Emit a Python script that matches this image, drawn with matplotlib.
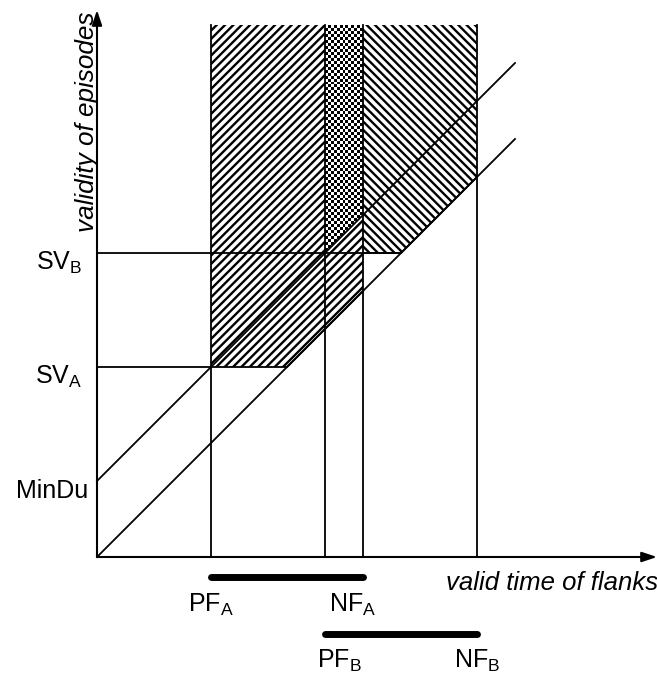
import numpy as np
import matplotlib
matplotlib.use("Agg")
import matplotlib.pyplot as plt
from matplotlib.patches import Polygon

# ---- data (abstract time units) ----
flank_names = ["PF$_\\mathrm{A}$", "NF$_\\mathrm{A}$", "PF$_\\mathrm{B}$", "NF$_\\mathrm{B}$"]
flank_pos = [3, 7, 6, 10]          # PF_A, NF_A, PF_B, NF_B
label_x = [3, 6.73, 6.37, 10]      # centre of each flank label
episode_A = (3, 7)                 # (PF_A, NF_A)
episode_B = (6, 10)                # (PF_B, NF_B)
sv_names = ["SV$_\\mathrm{A}$", "SV$_\\mathrm{B}$", "MinDu"]
sv_values = [5, 8, 2]
min_du = 2
top_value = 14
diag_end = 11

plt.rcParams['font.family'] = ['Liberation Sans', 'DejaVu Sans']
plt.rcParams['mathtext.fontset'] = 'custom'
plt.rcParams['mathtext.rm'] = 'Liberation Sans'
plt.rcParams['mathtext.it'] = 'Liberation Sans:italic'
plt.rcParams['hatch.linewidth'] = 1.7

fig = plt.figure(figsize=(6.57, 6.73), dpi=100)
ax = fig.add_axes([0, 0, 1, 1])
ax.set_xlim(-97 / 38, (657 - 97) / 38)
ax.set_ylim((557 - 673) / 38, 557 / 38)
ax.axis('off')

lw = 1.3
pfA, nfA = episode_A
pfB, nfB = episode_B
svA, svB = sv_values[0], sv_values[1]

# hatched region A: x in [PF_A, NF_A], y >= SV_A, y >= x
polyA = Polygon([(pfA, svA), (svA, svA), (nfA, nfA), (nfA, top_value), (pfA, top_value)],
                closed=True, facecolor='white', edgecolor='black', linewidth=0, hatch='////')
ax.add_patch(polyA)
# hatched region B (right part): x in [NF_A, NF_B], y >= SV_B, y >= x
polyB = Polygon([(nfA, svB), (svB, svB), (nfB, nfB), (nfB, top_value), (nfA, top_value)],
                closed=True, facecolor='white', edgecolor='black', linewidth=0, hatch='\\\\\\\\')
ax.add_patch(polyB)
# overlap: checkerboard, x in [PF_B, NF_A], y >= x + MinDu
polyC = Polygon([(pfB, pfB + min_du), (nfA, nfA + min_du), (nfA, top_value), (pfB, top_value)],
                closed=True, facecolor='white', edgecolor='none', linewidth=0)
ax.add_patch(polyC)
nx, ny = 13, 78
chk = (np.add.outer(np.arange(ny), np.arange(nx)) % 2).astype(float)
im = ax.imshow(chk, cmap='gray', extent=(pfB, nfA, pfB + min_du - 0.1, top_value),
               interpolation='nearest', origin='lower', aspect='auto', zorder=2)
im.set_clip_path(polyC)

# boundary edges of hatched regions
ax.plot([pfA, svA, nfA], [svA, svA, nfA], color='black', lw=lw, zorder=3)
ax.plot([nfA, svB, nfB], [svB, svB, nfB], color='black', lw=lw, zorder=3)

# vertical lines at flanks
for xv in flank_pos:
    ax.plot([xv, xv], [0, top_value], color='black', lw=lw, zorder=3)
# horizontal lines SV_A, SV_B
ax.plot([0, pfA], [svA, svA], color='black', lw=lw, zorder=3)
ax.plot([0, svB], [svB, svB], color='black', lw=lw, zorder=3)
# diagonals
ax.plot([0, diag_end], [0, diag_end], color='black', lw=lw, zorder=3)
ax.plot([0, diag_end], [min_du, diag_end + min_du], color='black', lw=lw, zorder=3)

# axes with arrows
arrow = dict(arrowstyle='-|>,head_length=0.9,head_width=0.3', lw=1.5, color='black',
             mutation_scale=10, shrinkA=0, shrinkB=0)
ax.annotate('', xy=(0, (557 - 10) / 38), xytext=(0, 0), arrowprops=arrow, zorder=4)
ax.annotate('', xy=((657 - 97) / 38, 0), xytext=(0, 0), arrowprops=arrow, zorder=4)

# episode bars
ax.plot([pfA, nfA], [-0.53, -0.53], color='black', lw=5, solid_capstyle='round')
ax.plot([pfB, nfB], [-2.03, -2.03], color='black', lw=5, solid_capstyle='round')

# flank labels
label_y = [-1.45, -1.45, -2.92, -2.92]
for name, lx, ly in zip(flank_names, label_x, label_y):
    ax.text(lx, ly, name, ha='center', va='baseline', fontsize=18)

# y labels
sv_right = [-0.4, -0.4, -0.23]
for name, val, rx in zip(sv_names, sv_values, sv_right):
    ax.text(rx, val - 0.45, name, ha='right', va='baseline', fontsize=18)

# axis titles
ax.text((658 - 97) / 38, (557 - 590) / 38, 'valid time of flanks', ha='right', va='baseline',
        fontsize=18.5, style='italic')
ax.text((87 - 97) / 38, (557 - 12) / 38, 'validity of episodes', ha='center', va='top',
        rotation=90, fontsize=18.8, style='italic')

fig.savefig('out.png', dpi=100)
